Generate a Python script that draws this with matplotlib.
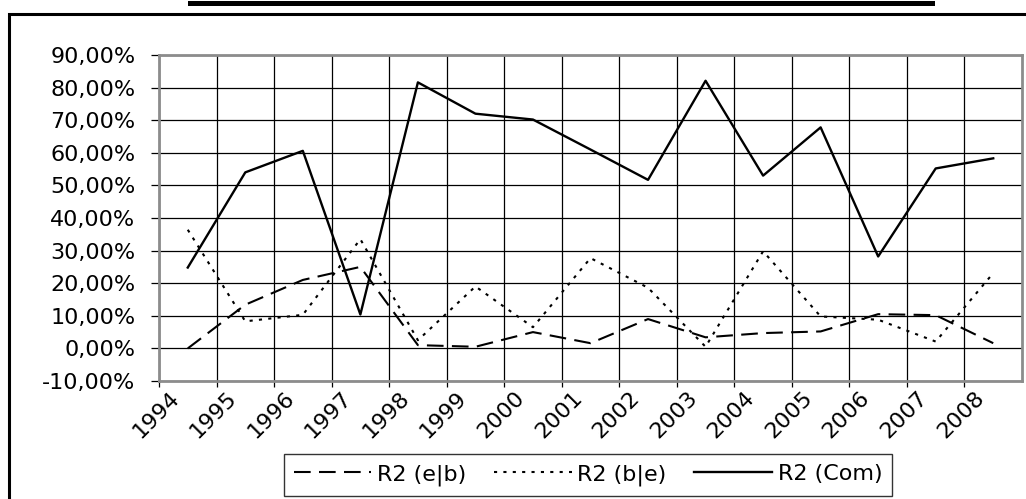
import numpy as np
import matplotlib
matplotlib.use("Agg")
import matplotlib.pyplot as plt
import matplotlib.transforms as mtransforms
from matplotlib.patches import Rectangle
from matplotlib.lines import Line2D
from matplotlib.ticker import FuncFormatter, FixedLocator

plt.rcParams["font.family"] = ["DejaVu Sans"]

years = [str(y) for y in range(1994, 2009)]
r2_eb = [0.0, 13.4, 21.0, 25.0, 1.0, 0.5, 5.0, 1.6, 9.0, 3.4, 4.7, 5.2, 10.5, 10.2, 1.6]
r2_be = [36.4, 8.3, 10.3, 33.5, 2.5, 19.0, 6.5, 27.7, 18.6, 0.5, 29.8, 9.8, 8.8, 2.1, 23.1]
r2_com = [24.8, 54.0, 60.6, 10.4, 81.6, 72.0, 70.2, 61.0, 51.7, 82.1, 53.0, 67.8, 28.2, 55.2, 58.3]

FS = 16

fig = plt.figure(figsize=(10.26, 4.99), dpi=100)
ax = fig.add_axes([159 / 1026, 1 - 381 / 499, 863 / 1026, 326 / 499])

x = np.arange(len(years)) + 0.5
ax.plot(x, r2_eb, color="black", lw=1.5, dashes=(8, 4), label="R2 (e|b)")
ax.plot(x, r2_be, color="black", lw=1.5, dashes=(1.5, 3), label="R2 (b|e)")
ax.plot(x, r2_com, color="black", lw=1.7, label="R2 (Com)")

ax.set_xlim(0, len(years))
ax.set_ylim(-10, 90)
ax.yaxis.set_major_locator(FixedLocator(np.arange(-10, 91, 10)))
ax.yaxis.set_major_formatter(FuncFormatter(lambda v, p: f"{v:.2f}%".replace(".", ",")))
ax.set_xticks(np.arange(len(years)))
ax.set_xticklabels(years, rotation=45, ha="right", va="top", rotation_mode="anchor")

ax.grid(True, color="black", lw=0.9)
ax.set_axisbelow(True)
for s in ax.spines.values():
    s.set_color("#8c8c8c")
    s.set_linewidth(2)

ax.tick_params(axis="y", length=6, width=0.9, pad=11, labelsize=FS, color="black")
ax.tick_params(axis="x", length=4, width=0.9, pad=1, labelsize=FS, color="black")

# shift rotated labels right so their ends sit on the ticks
offset = mtransforms.ScaledTranslation(10 / 100, 0, fig.dpi_scale_trans)
for lbl in ax.get_xticklabels():
    lbl.set_transform(lbl.get_transform() + offset)

leg = fig.legend(loc="center", bbox_to_anchor=(588 / 1026, 1 - 475 / 499), ncol=3,
                 fontsize=FS, frameon=True, fancybox=False, handlelength=3.5,
                 handletextpad=0.25, columnspacing=1.25, borderpad=0.45)
leg.get_frame().set_edgecolor("black")
leg.get_frame().set_linewidth(1)

# outer chart frame (continues past the image edges)
fig.add_artist(Rectangle((9 / 1026, -0.1), 1.2, 1 - 14 / 499 + 0.1, transform=fig.transFigure,
                         fill=False, edgecolor="black", lw=2.2, clip_on=False))
# underline of the clipped title at the top
fig.add_artist(Line2D([190 / 1026, 932 / 1026], [1 - 2.5 / 499, 1 - 2.5 / 499],
                      transform=fig.transFigure, color="black", lw=3.6))

fig.savefig("out.png", dpi=100)
